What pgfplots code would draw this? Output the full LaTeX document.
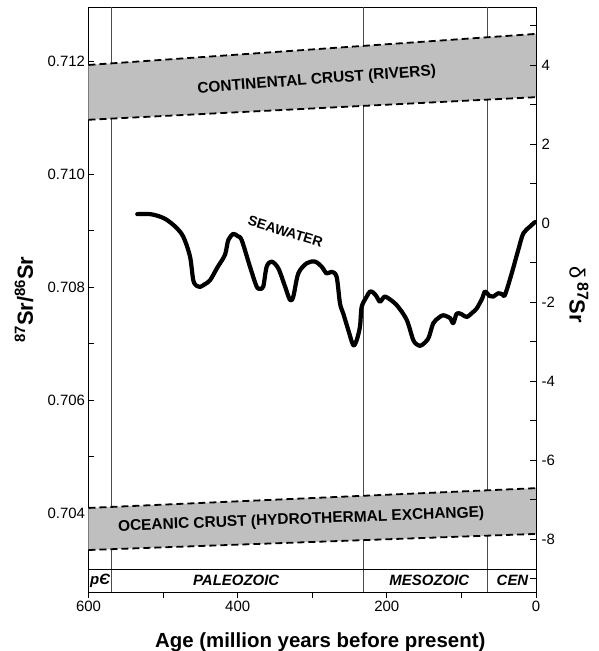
\documentclass[border=0pt]{standalone}
\usepackage{fontspec}
\setmainfont{Liberation Sans}
\usepackage{pgfplots}
\pgfplotsset{compat=1.18}

\pgfplotstableread{
age ratio
534.6 0.70929
517.6 0.70929
505 0.70925
495.2 0.70919
483 0.70906
472.9 0.70889
463.9 0.70854
459.5 0.70812
455 0.70802
450.5 0.70800
444 0.70805
437 0.70812
427 0.70835
417 0.70857
412.6 0.70883
405.9 0.70894
400 0.70890
394.6 0.70883
383.5 0.70836
374.6 0.70801
370 0.70797
365.6 0.70801
361.1 0.70836
354.4 0.70845
345.5 0.70833
336.5 0.70801
329.8 0.70777
325.4 0.70783
318.7 0.70824
307.5 0.70842
296.3 0.70845
287.4 0.70836
280.7 0.70824
274 0.70827
267.3 0.70818
262.8 0.70771
258.4 0.70753
251.7 0.70724
245 0.70697
240.4 0.70706
236 0.70730
233.7 0.70765
227 0.70783
222.6 0.70792
218 0.70790
213.6 0.70783
209.2 0.70774
204 0.70782
200.2 0.70782
186.8 0.70768
173.4 0.70742
164.5 0.70706
158 0.70697
153.3 0.70697
144.4 0.70709
137.7 0.70736
130 0.70746
124.3 0.70750
115.3 0.70745
110.9 0.70736
106.3 0.70753
100 0.70752
92.9 0.70747
85 0.70755
79.5 0.70762
72 0.70780
68.4 0.70792
62 0.70784
57.3 0.70783
50.6 0.70789
45 0.70787
41.6 0.70786
32.6 0.70824
23.7 0.70866
17 0.70895
8 0.70907
1.3 0.70915
}\seawater

\begin{document}
\begin{tikzpicture}
\begin{axis}[name=ax, scale only axis, width=447.5bp, height=585bp,
  x dir=reverse, xmin=0, xmax=600, ymin=0.702602, ymax=0.712956,
  xtick={0,200,400,600}, minor xtick={100,300,500},
  ytick={0.704,0.706,0.708,0.710,0.712},
  minor ytick={0.703,0.705,0.707,0.709,0.711},
  xtick pos=left, ytick pos=left,
  xtick align=outside, ytick align=inside,
  major tick length=6bp, minor tick length=6bp,
  tick style={black, line width=0.8bp},
  axis line style={line width=0.9bp},
  scaled y ticks=false,
  /pgf/number format/assume math mode=true,
  yticklabel style={/pgf/number format/.cd, fixed, fixed zerofill, precision=3},
  ticklabel style={font=\fontsize{15}{15}\selectfont},
  clip=true,
]
% era dividers
\addplot[black!70, line width=0.7bp] coordinates {(570,0.702602) (570,0.712956)};
\addplot[black!70, line width=0.7bp] coordinates {(232,0.702602) (232,0.712956)};
\addplot[black!70, line width=0.7bp] coordinates {(65,0.702602) (65,0.712956)};
\addplot[black, line width=0.8bp] coordinates {(600,0.703009) (0,0.703009)};
% continental crust band
\addplot[fill=black!25, draw=none] coordinates {(600,0.71193) (0,0.71248) (0,0.71136) (600,0.71096)} -- cycle;
\addplot[black, line width=1.8bp, dash pattern=on 7bp off 4bp] coordinates {(600,0.71193) (0,0.71248)};
\addplot[black, line width=1.8bp, dash pattern=on 7bp off 4bp] coordinates {(600,0.71096) (0,0.71136)};
% oceanic crust band
\addplot[fill=black!25, draw=none] coordinates {(600,0.70409) (0,0.70444) (0,0.70363) (600,0.703345)} -- cycle;
\addplot[black, line width=1.8bp, dash pattern=on 7bp off 4bp] coordinates {(600,0.70409) (0,0.70444)};
\addplot[black, line width=1.8bp, dash pattern=on 7bp off 4bp] coordinates {(600,0.703345) (0,0.70363)};
% seawater
\addplot[black, line width=4.2bp, smooth, tension=0.5, line cap=round, line join=round] table[x=age, y=ratio] {\seawater};

\node[font=\fontsize{15.5}{15.5}\selectfont\bfseries, rotate=4.3] at (axis cs:294,0.71166) {CONTINENTAL CRUST (RIVERS)};
\node[font=\fontsize{15.5}{15.5}\selectfont\bfseries, rotate=2.2, anchor=west, inner sep=0pt] at (axis cs:560.5,0.70375) {OCEANIC CRUST (HYDROTHERMAL EXCHANGE)};
\node[font=\fontsize{14}{14}\selectfont\bfseries, rotate=-17, inner sep=1pt] at (axis cs:336,0.70898) {SEAWATER};
\node[font=\fontsize{15}{15}\selectfont\bfseries\itshape] at (axis cs:584.5,0.702805) {pЄ};
\node[font=\fontsize{15}{15}\selectfont\bfseries\itshape] at (axis cs:402,0.702805) {PALEOZOIC};
\node[font=\fontsize{15}{15}\selectfont\bfseries\itshape] at (axis cs:143,0.702805) {MESOZOIC};
\node[font=\fontsize{15}{15}\selectfont\bfseries\itshape] at (axis cs:31.5,0.702805) {CEN};
\end{axis}

\begin{axis}[name=ax2, scale only axis, width=447.5bp, height=585bp,
  xmin=0, xmax=600, ymin=-9.342, ymax=5.468,
  axis y line*=right, axis x line=none,
  ytick={-8,-6,-4,-2,0,2,4}, minor ytick={-9,-7,-5,-3,-1,1,3,5},
  ytick align=inside,
  major tick length=6bp, minor tick length=6bp,
  tick style={black, line width=0.8bp},
  axis line style={line width=0.9bp},
  /pgf/number format/assume math mode=true,
  yticklabel style={font=\fontsize{15}{15}\selectfont, xshift=2bp},
]
\addplot[draw=none] coordinates {(300,0)};
\end{axis}

\node[rotate=90, font=\fontsize{22}{22}\selectfont\bfseries] at ([xshift=-64.5bp]ax.west)
  {\raisebox{0.36em}{\fontsize{15}{15}\selectfont 87}Sr/\raisebox{0.36em}{\fontsize{15}{15}\selectfont 86}Sr};
\node[rotate=-90, font=\fontsize{22}{22}\selectfont\bfseries] at ([xshift=43bp, yshift=4.5bp]ax.east)
  {{\mdseries δ}\hspace{3bp}\raisebox{0.36em}{\fontsize{16}{16}\selectfont 87}Sr};
\node[anchor=base, font=\fontsize{20.5}{20.5}\selectfont\bfseries] at ([xshift=8bp, yshift=-55bp]ax.south)
  {Age (million years before present)};

\pgfresetboundingbox
\path[use as bounding box] ([shift={(-88.5bp,-59bp)}]ax.south west) rectangle ([shift={(63bp,7bp)}]ax.north east);
\end{tikzpicture}
\end{document}
